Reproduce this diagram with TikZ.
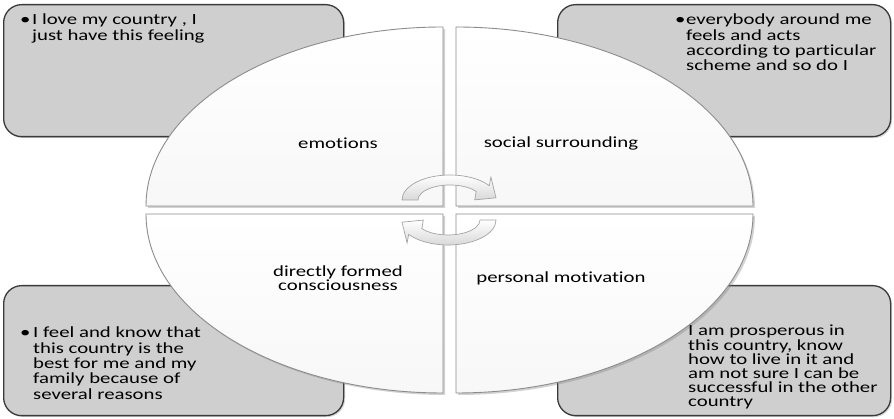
\documentclass[tikz,border=0pt]{standalone}
\usepackage{fontspec}
\setmainfont{Carlito}
\newfontfamily\cfont[FakeStretch=1.34,Ligatures=NoCommon]{Carlito}
\usetikzlibrary{shadows}
\definecolor{boxfill}{HTML}{CFCFCF}
\definecolor{boxline}{HTML}{3A3A3A}
\definecolor{pieline}{HTML}{8C8C8C}
\definecolor{arrline}{HTML}{A4A4A4}
\tikzset{
  qbox/.style={draw=boxline, fill=boxfill, line width=1.3pt, rounded corners=18pt,
    inner sep=0pt, anchor=north west,
    drop shadow={shadow xshift=1.5pt, shadow yshift=-1.5pt, opacity=0.3}},
  pie/.style={draw=pieline, line width=0.9pt, top color=white, bottom color=gray!6,
    drop shadow={shadow xshift=2pt, shadow yshift=-2pt, opacity=0.35}},
  txt/.style={font=\cfont\fontsize{15.5}{15.3}\selectfont, align=left, inner sep=0pt, anchor=base west},
  bul/.style={font=\cfont\fontsize{15.5}{15.3}\selectfont, inner sep=0pt, anchor=base west},
  lab/.style={font=\cfont\fontsize{15.5}{14}\selectfont, align=center, inner sep=0pt},
  cyc/.pic={
    \path[draw=arrline, line width=0.7pt, top color=white, bottom color=gray!30]
      (-48,0) arc[start angle=180, end angle=35, x radius=48pt, y radius=25pt]
      -- (40.9,22.9) -- (46,2.2) -- (24.7,0.1) -- (26.2,8.6)
      arc[start angle=35, end angle=180, x radius=32pt, y radius=15pt] -- cycle;
  }
}
\begin{document}
\begin{tikzpicture}[x=1pt,y=1pt]
\useasboundingbox (0,0) rectangle (894,419);
\fill[white] (0,0) rectangle (894,419);

% outer boxes
\node[qbox, minimum width=340pt, minimum height=132pt] (tlbox) at (3,415) {};
\node[qbox, minimum width=333pt, minimum height=132pt] (trbox) at (557,415) {};
\node[qbox, minimum width=340pt, minimum height=130pt] (blbox) at (3,134) {};
\node[qbox, minimum width=333pt, minimum height=130pt] (brbox) at (557,134) {};

% quarter pies
\path[pie] (443,213) -- (146,213) arc[start angle=180, end angle=90, x radius=297pt, y radius=179pt] -- cycle;
\path[pie] (456,213) -- (456,392) arc[start angle=90, end angle=0, x radius=297pt, y radius=179pt] -- cycle;
\path[pie] (443,205) -- (146,205) arc[start angle=180, end angle=270, x radius=297pt, y radius=179pt] -- cycle;
\path[pie] (456,205) -- (753,205) arc[start angle=0, end angle=-90, x radius=297pt, y radius=179pt] -- cycle;

% cycle arrows
\pic at (450,219) {cyc};
\pic[rotate=180] at (448,199) {cyc};

% labels
\node[lab] (emo) at (338,276) {emotions};
\node[lab] (soc) at (561,276) {social surrounding};
\node[lab] (dir) at (338,141) {directly formed\\consciousness};
\node[lab] (per) at (561,141) {personal motivation};

% box texts (base anchor = last line's baseline)
\node[bul] (b1) at (20,394) {\textbullet};
\node[txt] (t1) at (32,378.7) {I love my country , I\\just have this feeling};
\node[bul] (b2) at (675,394) {\textbullet};
\node[txt] (t2) at (686,348.1) {everybody around me\\feels and acts\\according to particular\\scheme and so do I};
\node[bul] (b3) at (20,81) {\textbullet};
\node[txt] (t3) at (33,19.8) {I feel and know that\\this country is the\\best for me and my\\family because of\\several reasons};
\node[txt, font=\cfont\fontsize{15.5}{14.2}\selectfont] (t4) at (688,12) {I am prosperous in\\this country, know\\how to live in it and\\am not sure I can be\\successful in the other\\country};
\end{tikzpicture}
\end{document}
